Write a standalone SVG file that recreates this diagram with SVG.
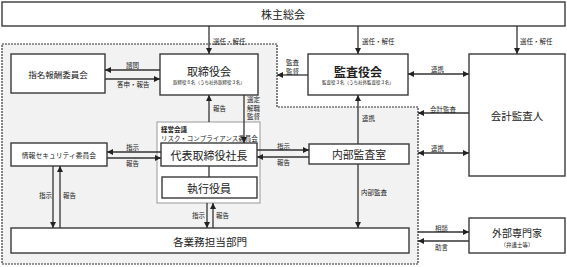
<svg xmlns="http://www.w3.org/2000/svg" width="567" height="267" viewBox="0 0 567 267">
<defs>
<marker id="ah" viewBox="0 0 10 10" refX="10" refY="5" markerWidth="6" markerHeight="6" markerUnits="userSpaceOnUse" orient="auto-start-reverse"><path d="M0,0 L10,5 L0,10 z" fill="#222"/></marker>
<style>
.box{fill:#fff;stroke:#3a3a3a;stroke-width:1.4}
.t{font-family:"Noto Sans CJK JP",sans-serif;fill:#222;text-anchor:middle;dominant-baseline:central}
.l{font-family:"Noto Sans CJK JP",sans-serif;font-size:6.5px;fill:#222;dominant-baseline:central}
.c{stroke:#333;stroke-width:1.3;fill:none}
.a{marker-end:url(#ah)}
.b{marker-start:url(#ah);marker-end:url(#ah)}
</style>
</defs>
<rect width="567" height="267" fill="#fff"/>
<path d="M2,44 H277 V107 H418 V264 H2 Z" fill="#f2f2f2" stroke="#333" stroke-width="1.2" stroke-dasharray="2,1"/>

<g id="shareholders"><rect class="box" x="2" y="2" width="563" height="24"/><text class="t" x="283" y="14" font-size="11">株主総会</text></g>
<g id="board"><rect class="box" x="160" y="54" width="98" height="41"/><text class="t" x="209" y="71" font-size="11">取締役会</text><text class="t" x="209" y="82" font-size="4.5">取締役８名（うち社外取締役３名）</text></g>
<g id="nomination"><rect class="box" x="11" y="54" width="94" height="39"/><text class="t" x="58" y="74" font-size="8.5">指名報酬委員会</text></g>
<g id="auditboard"><rect class="box" x="308" y="54" width="100" height="41"/><text class="t" x="358" y="71" font-size="12" font-weight="bold">監査役会</text><text class="t" x="358" y="82" font-size="4.5">監査役３名（うち社外監査役３名）</text></g>
<g id="accountant"><rect class="box" x="469" y="54" width="96" height="122"/><text class="t" x="517" y="115" font-size="10.5">会計監査人</text></g>
<g id="mgmt"><rect x="157" y="122" width="103" height="81" fill="#fff" stroke="#999" stroke-width="1"/><text class="l" x="161" y="128.5" font-size="7" font-weight="bold">経営会議</text><text class="l" x="161" y="137.5" font-size="4.5">リスク・コンプライアンス委員会</text></g>
<g id="president"><rect class="box" x="161" y="143" width="96" height="23"/><text class="t" x="209" y="155" font-size="11">代表取締役社長</text></g>
<g id="officers"><rect class="box" x="162" y="177" width="95" height="21"/><text class="t" x="209" y="188" font-size="11">執行役員</text></g>
<g id="security"><rect class="box" x="11" y="143" width="96" height="23"/><text class="t" x="59" y="155" font-size="6.8">情報セキュリティ委員会</text></g>
<g id="internalaudit"><rect class="box" x="309" y="144" width="100" height="20"/><text class="t" x="359" y="154" font-size="10.8">内部監査室</text></g>
<g id="departments"><rect class="box" x="11" y="228" width="398" height="25"/><text class="t" x="210" y="241" font-size="10.6">各業務担当部門</text></g>
<g id="experts"><rect class="box" x="469" y="218" width="96" height="35"/><text class="t" x="517" y="232" font-size="10">外部専門家</text><text class="t" x="517" y="245" font-size="5.5">（弁護士等）</text></g>

<g id="connectors">
<path class="c a" d="M209,26 V54"/>
<path class="c a" d="M358,26 V54"/>
<path class="c a" d="M517,26 V54"/>
<path class="c a" d="M160,70 H105"/>
<path class="c a" d="M105,79 H160"/>
<path class="c a" d="M308,75 H277"/>
<path class="c b" d="M408,74 H469"/>
<path class="c a" d="M469,113 H418"/>
<path class="c a" d="M209,122 V95"/>
<path class="c a" d="M244,95 V143"/>
<path class="c a" d="M358,144 V95"/>
<path class="c a" d="M161,152 H107"/>
<path class="c a" d="M107,158 H161"/>
<path class="c a" d="M257,150 H309"/>
<path class="c a" d="M309,157 H257"/>
<path class="c" d="M209,166 V177"/>
<path class="c a" d="M207,203 V228"/>
<path class="c a" d="M213,228 V203"/>
<path class="c a" d="M53,166 V228"/>
<path class="c a" d="M60,228 V166"/>
<path class="c a" d="M358,164 V228"/>
<path class="c b" d="M418,153 H469"/>
<path class="c a" d="M418,232 H469"/>
<path class="c a" d="M469,241 H418"/>
</g>
<g id="labels">
<text class="l" x="213" y="41">選任・解任</text>
<text class="l" x="362" y="41">選任・解任</text>
<text class="l" x="520" y="41">選任・解任</text>
<text class="l" x="126" y="65">諮問</text>
<text class="l" x="117" y="84">答申・報告</text>
<text class="l" x="286" y="62">監査</text>
<text class="l" x="286" y="71">監督</text>
<text class="l" x="431" y="69">連携</text>
<text class="l" x="430" y="109">会計監査</text>
<text class="l" x="213" y="108">報告</text>
<text class="l" x="247" y="99" font-size="6">選定</text>
<text class="l" x="247" y="107.5" font-size="6">解職</text>
<text class="l" x="247" y="116" font-size="6">監督</text>
<text class="l" x="362" y="118">連携</text>
<text class="l" x="126" y="147">指示</text>
<text class="l" x="126" y="163">報告</text>
<text class="l" x="277" y="146">指示</text>
<text class="l" x="277" y="162">報告</text>
<text class="l" x="431" y="148">連携</text>
<text class="l" x="192" y="215">指示</text>
<text class="l" x="216" y="215">報告</text>
<text class="l" x="39" y="195">指示</text>
<text class="l" x="63" y="195">報告</text>
<text class="l" x="361" y="192">内部監査</text>
<text class="l" x="435" y="228">相談</text>
<text class="l" x="435" y="247">助言</text>
</g>
</svg>
